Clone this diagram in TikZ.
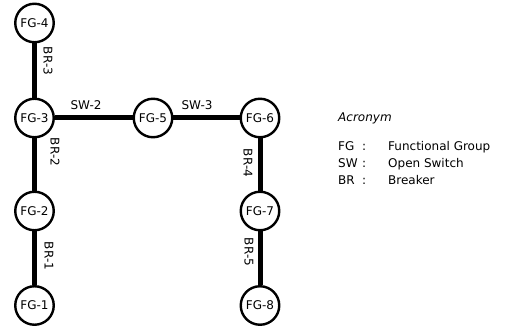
\documentclass[tikz,border=0pt]{standalone}
\usepackage{fontspec}
\setmainfont{DejaVu Sans}
\begin{document}
\begin{tikzpicture}[x=1pt,y=-1pt,
  font=\fontsize{12}{14}\selectfont,
  fg/.style={circle,draw,line width=2.4pt,fill=white,minimum size=38.5pt,inner sep=0pt},
  link/.style={line width=5pt},
  lbl/.style={inner sep=0pt},
  vlbl/.style={inner sep=0pt,rotate=-90},
  acr/.style={inner sep=0pt,anchor=base west}]
\useasboundingbox (0,0) rectangle (506,328);

% functional groups
\node[fg] (fg4) at (34.5,23)  {FG-4};
\node[fg] (fg3) at (34.5,118) {FG-3};
\node[fg] (fg2) at (34.5,211) {FG-2};
\node[fg] (fg1) at (34.5,305.5) {FG-1};
\node[fg] (fg5) at (153,118)  {FG-5};
\node[fg] (fg6) at (260,118)  {FG-6};
\node[fg] (fg7) at (260,211)  {FG-7};
\node[fg] (fg8) at (260,305.5) {FG-8};

% breakers and switches
\draw[link] (fg4) -- (fg3);
\draw[link] (fg3) -- (fg2);
\draw[link] (fg2) -- (fg1);
\draw[link] (fg3) -- (fg5);
\draw[link] (fg5) -- (fg6);
\draw[link] (fg6) -- (fg7);
\draw[link] (fg7) -- (fg8);

\node[vlbl] (br3) at (48,61)  {BR-3};
\node[vlbl] (br2) at (55,152) {BR-2};
\node[vlbl] (br1) at (49,256) {BR-1};
\node[vlbl] (br4) at (248,163) {BR-4};
\node[vlbl] (br5) at (249,252) {BR-5};
\node[lbl] (sw2) at (86,105)  {SW-2};
\node[lbl] (sw3) at (197,105) {SW-3};

% legend
\node[acr] (acrt) at (338,122) {\itshape Acronym};
\node[acr] (kfg) at (338,151) {FG};
\node[acr] (kfc) at (362,151) {:};
\node[acr] (kft) at (388,151) {Functional Group};
\node[acr] (ksw) at (338,168) {SW};
\node[acr] (ksc) at (362,168) {:};
\node[acr] (kst) at (388,168) {Open Switch};
\node[acr] (kbr) at (338,185) {BR};
\node[acr] (kbc) at (362,185) {:};
\node[acr] (kbt) at (388,185) {Breaker};
\end{tikzpicture}
\end{document}
